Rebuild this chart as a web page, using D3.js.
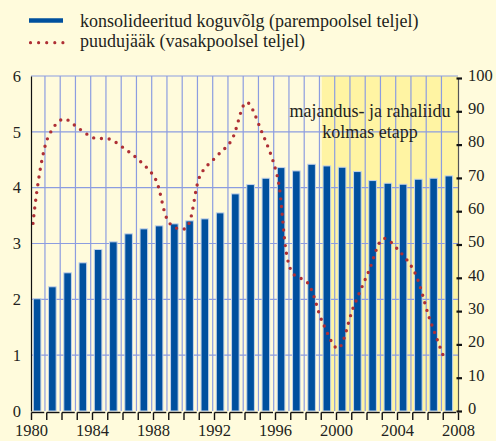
<!DOCTYPE html>
<html>
<head>
<meta charset="utf-8">
<script src="https://cdn.jsdelivr.net/npm/d3@7"></script>
<style>
  html, body { margin: 0; padding: 0; background: #fffbdc; }
</style>
</head>
<body>
<div id="chart"></div>
<script>
// andmed (loetud pildilt)
var YEARS = d3.range(1980, 2008);
// konsolideeritud koguvõlg, % SKP (parem telg)
var DEBT = [33.7, 37.3, 41.5, 44.5, 48.5, 50.8, 53.2, 54.7, 55.6, 56.2,
            57.1, 57.7, 59.5, 65.2, 68.0, 69.9, 73.1, 72.1, 74.1, 73.6,
            73.2, 71.9, 69.2, 68.4, 68.1, 69.6, 69.9, 70.6];
// puudujääk, % SKP (vasak telg)
var DEFICIT = [3.36, 4.91, 5.23, 5.06, 4.89, 4.87, 4.70, 4.48, 4.17, 3.35,
               3.27, 4.24, 4.55, 4.84, 5.53, 5.00, 4.23, 2.48, 2.30, 1.58,
               1.12, 1.85, 2.49, 3.09, 2.87, 2.50, 1.66, 0.92];
var LEFT_TICKS = [0, 1, 2, 3, 4, 5, 6];
var RIGHT_TICKS = d3.range(0, 101, 10);
var X_TICKS = d3.range(1980, 2009, 4);
var EMU_START = 1999;
var LEGEND = ['konsolideeritud koguvõlg (parempoolsel teljel)',
              'puudujääk (vasakpoolsel teljel)'];
var NOTE = ['majandus- ja rahaliidu', 'kolmas etapp'];

var WIDTH = 496, HEIGHT = 441;
var margin = {top: 76, right: 38, bottom: 30, left: 31};

var BLUE = '#00509e', RED = '#ae2f35', GRID = '#8c9de0';
var FONT = '"Liberation Serif", "Times New Roman", "DejaVu Serif", serif';
var INK = '#231f20';

var svg = d3.select('#chart').append('svg')
            .attr('width', WIDTH)
            .attr('height', HEIGHT);

svg.append('rect').attr('width', WIDTH).attr('height', HEIGHT).attr('fill', '#fffbdc');

var x = d3.scaleLinear().domain([1980, 2008]).range([margin.left, WIDTH - margin.right]);
var yLeft = d3.scaleLinear().domain([0, 6]).range([HEIGHT - margin.bottom, margin.top]);
var yRight = d3.scaleLinear().domain([0, 100]).range([HEIGHT - margin.bottom, 78]);

// EMU 3. etapi taust
svg.append('rect')
   .attr('x', x(EMU_START) + 1)
   .attr('y', yLeft(6))
   .attr('width', x(2008) - x(EMU_START) - 1)
   .attr('height', yLeft(0) - yLeft(6))
   .attr('fill', '#fff4a3');

// võrgustik
svg.append('g').selectAll('line')
   .data(LEFT_TICKS.slice(1))
   .enter().append('line')
   .attr('x1', x(1980)).attr('x2', x(2008))
   .attr('y1', d => yLeft(d)).attr('y2', d => yLeft(d))
   .attr('stroke', GRID).attr('stroke-width', 1.2);

svg.append('g').selectAll('line')
   .data(d3.range(1981, 2008))
   .enter().append('line')
   .attr('x1', d => x(d - 0.085)).attr('x2', d => x(d - 0.085))
   .attr('y1', yLeft(6)).attr('y2', yLeft(0))
   .attr('stroke', GRID).attr('stroke-width', 1.2);

// tulbad
var barW = 7.6;
svg.append('g').selectAll('rect')
   .data(YEARS)
   .enter().append('rect')
   .attr('x', d => x(d + 0.4) - barW / 2)
   .attr('y', (d, i) => yRight(DEBT[i]))
   .attr('width', barW)
   .attr('height', (d, i) => yRight(0) - yRight(DEBT[i]))
   .attr('fill', BLUE)
   .attr('stroke', '#c4d3ea')
   .attr('stroke-width', 1);

// puudujäägi joon
var line = d3.line()
             .x(d => x(d.year + 0.13))
             .y(d => yLeft(d.value))
             .curve(d3.curveCatmullRom.alpha(0.5));

svg.append('path')
   .datum(YEARS.map((yr, i) => ({year: yr, value: DEFICIT[i]})))
   .attr('d', line)
   .attr('fill', 'none')
   .attr('stroke', RED)
   .attr('stroke-width', 3.4)
   .attr('stroke-linecap', 'round')
   .attr('stroke-dasharray', '0 7.8');

// teljed
function styleText(sel) {
  sel.attr('font-family', null)
     .style('font-family', FONT)
     .style('font-size', '16.5px')
     .attr('fill', INK);
}

var axisLeft = svg.append('g').attr('transform', `translate(${x(1980)},0)`)
                  .call(d3.axisLeft(yLeft).tickValues(LEFT_TICKS).tickFormat(d3.format('d'))
                          .tickSize(0).tickPadding(10));
axisLeft.select('.domain').attr('stroke', '#111').attr('stroke-width', 1.2);
axisLeft.attr('font-family', null).selectAll('text').call(styleText);

var axisRight = svg.append('g').attr('transform', `translate(${x(2008)},0)`)
                   .call(d3.axisRight(yRight).tickValues(RIGHT_TICKS).tickSize(4).tickPadding(6));
axisRight.select('.domain').attr('stroke', '#555').attr('stroke-width', 1.2);
axisRight.selectAll('.tick line').attr('x1', -1.5).attr('stroke', '#111').attr('stroke-width', 2.2);
axisRight.attr('font-family', null).selectAll('text').call(styleText).attr('dy', '0.14em');

// x-telg: iga aasta lõik algab väikese kriipsuga ja lõpeb enne järgmist
var axisBottom = svg.append('g').attr('transform', `translate(0,${yLeft(0) + 1.5})`)
                    .call(d3.axisBottom(x).tickValues(d3.range(1980, 2009)).tickSize(7.5)
                            .tickPadding(4.5)
                            .tickFormat(d => X_TICKS.indexOf(d) >= 0 ? d : ''));
axisBottom.select('.domain').remove();
axisBottom.selectAll('.tick line').attr('stroke', '#111').attr('stroke-width', 1.4);
axisBottom.selectAll('.tick')
          .filter(d => d < 2008)
          .append('line')
          .attr('x1', 0).attr('x2', d => x(d + 1) - x(d) - 2.5)
          .attr('stroke', '#111').attr('stroke-width', 1.4);
axisBottom.attr('font-family', null).selectAll('text').call(styleText);

// märkus
svg.append('g').selectAll('text')
   .data(NOTE)
   .enter().append('text')
   .attr('x', 370)
   .attr('y', (d, i) => 117 + i * 21)
   .attr('text-anchor', 'middle')
   .call(styleText)
   .style('font-size', '18px')
   .text(d => d);

// legend
var legend = svg.append('g');
legend.append('line')
      .attr('x1', 29).attr('x2', 63).attr('y1', 20.5).attr('y2', 20.5)
      .attr('stroke', BLUE).attr('stroke-width', 4.5);
legend.append('line')
      .attr('x1', 30.5).attr('x2', 63).attr('y1', 42.7).attr('y2', 42.7)
      .attr('stroke', RED).attr('stroke-width', 3.2)
      .attr('stroke-linecap', 'round')
      .attr('stroke-dasharray', '0 8.1');
legend.selectAll('text')
      .data(LEGEND)
      .enter().append('text')
      .attr('x', 80)
      .attr('y', (d, i) => 27 + i * 20)
      .call(styleText)
      .style('font-size', '18px')
      .text(d => d);
</script>
</body>
</html>
